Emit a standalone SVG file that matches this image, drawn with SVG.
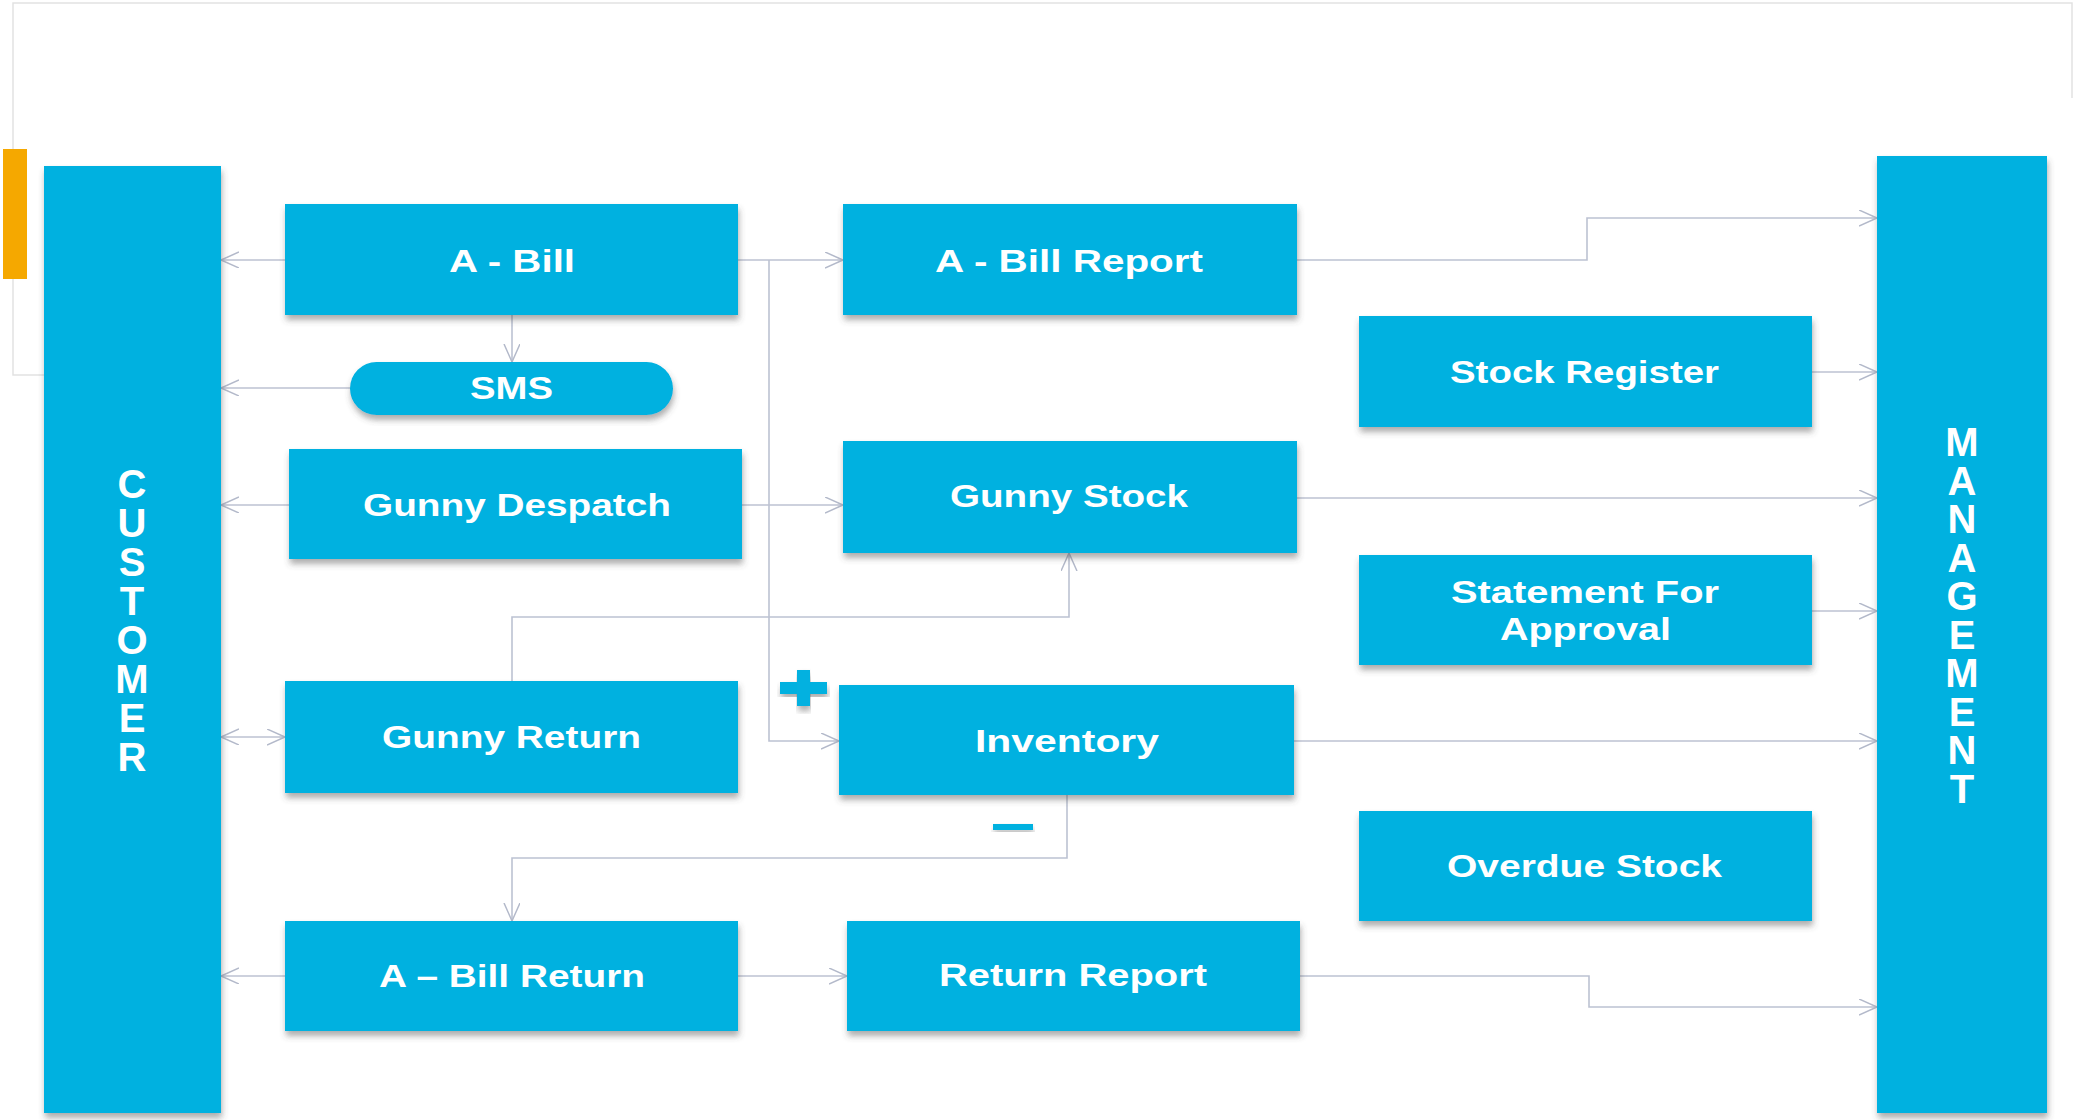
<svg xmlns="http://www.w3.org/2000/svg" width="2078" height="1120" viewBox="0 0 2078 1120">
<defs>
<style>
.box{fill:#03B1E0;filter:url(#sh)}
.t{font-family:"Liberation Sans",Arial,sans-serif;font-weight:bold;font-size:32px;fill:#ffffff}
.v{font-family:"Liberation Sans",Arial,sans-serif;font-weight:bold;font-size:40px;fill:#ffffff;writing-mode:vertical-rl;text-orientation:upright}
.c{fill:none;stroke:#bcc2d2;stroke-width:1.6}
.a{marker-end:url(#ah)}
.frame{fill:none;stroke:#e2e2e2;stroke-width:1.5}
</style>
<filter id="sh" x="-5%" y="-10%" width="110%" height="130%">
<feDropShadow dx="1" dy="5" stdDeviation="3" flood-color="#4a4a4a" flood-opacity="0.45"/>
</filter>
<marker id="ah" markerUnits="userSpaceOnUse" markerWidth="20" markerHeight="18" refX="18" refY="8" orient="auto-start-reverse" viewBox="0 0 20 18">
<path d="M0,0 L18,8 L0,16" fill="none" stroke="#b3b9ca" stroke-width="1.5"/>
</marker>
</defs>
<rect width="2078" height="1120" fill="#ffffff"/>
<path class="frame" d="M44,375 H13 V3 H2072 V98"/>
<rect x="3" y="149" width="24" height="130" fill="#F5A800"/>

<g id="connectors">
<path class="c a" d="M285,260 H221"/>
<path class="c a" d="M512,315 V362"/>
<path class="c a" d="M350,388 H221"/>
<path class="c a" d="M289,505 H221"/>
<path class="c a" d="M285,737 H221" style="marker-start:url(#ah)"/>
<path class="c a" d="M285,976 H221"/>
<path class="c a" d="M738,260 H843"/>
<path class="c a" d="M769,260 V741 H839"/>
<path class="c a" d="M742,505 H843"/>
<path class="c a" d="M512,681 V617 H1069 V553"/>
<path class="c a" d="M1067,795 V858 H512 V921"/>
<path class="c a" d="M1296,260 H1587 V218 H1877"/>
<path class="c a" d="M1812,372 H1877"/>
<path class="c a" d="M1296,498 H1877"/>
<path class="c a" d="M1812,611 H1877"/>
<path class="c a" d="M1293,741 H1877"/>
<path class="c a" d="M1300,976 H1589 V1007 H1877"/>
<path class="c a" d="M738,976 H847"/>
</g>

<g id="customer">
<rect class="box" x="44" y="166" width="177" height="947"/>
<text class="v" x="132" y="462" letter-spacing="-5.0">CUSTOMER</text>
</g>

<g id="management">
<rect class="box" x="1877" y="156" width="170" height="957"/>
<text class="v" x="1962" y="420" letter-spacing="-5.5">MANAGEMENT</text>
</g>

<g id="a-bill">
<rect class="box" x="285" y="204" width="453" height="111"/>
<text class="t" x="449" y="272" textLength="126" lengthAdjust="spacingAndGlyphs">A - Bill</text>
</g>

<g id="sms">
<rect class="box" x="350" y="362" width="323" height="53" rx="26.5" ry="26.5"/>
<text class="t" x="470" y="399" textLength="83" lengthAdjust="spacingAndGlyphs">SMS</text>
</g>

<g id="gunny-despatch">
<rect class="box" x="289" y="449" width="453" height="110"/>
<text class="t" x="363" y="516" textLength="308" lengthAdjust="spacingAndGlyphs">Gunny Despatch</text>
</g>

<g id="gunny-return">
<rect class="box" x="285" y="681" width="453" height="112"/>
<text class="t" x="382" y="748" textLength="259" lengthAdjust="spacingAndGlyphs">Gunny Return</text>
</g>

<g id="a-bill-return">
<rect class="box" x="285" y="921" width="453" height="110"/>
<text class="t" x="379" y="987" textLength="266" lengthAdjust="spacingAndGlyphs">A – Bill Return</text>
</g>

<g id="a-bill-report">
<rect class="box" x="843" y="204" width="454" height="111"/>
<text class="t" x="935" y="272" textLength="268" lengthAdjust="spacingAndGlyphs">A - Bill Report</text>
</g>

<g id="gunny-stock">
<rect class="box" x="843" y="441" width="454" height="112"/>
<text class="t" x="950" y="507" textLength="238" lengthAdjust="spacingAndGlyphs">Gunny Stock</text>
</g>

<g id="inventory">
<rect class="box" x="839" y="685" width="455" height="110"/>
<text class="t" x="975" y="752" textLength="184" lengthAdjust="spacingAndGlyphs">Inventory</text>
</g>

<g id="return-report">
<rect class="box" x="847" y="921" width="453" height="110"/>
<text class="t" x="939" y="986" textLength="268" lengthAdjust="spacingAndGlyphs">Return Report</text>
</g>

<g id="stock-register">
<rect class="box" x="1359" y="316" width="453" height="111"/>
<text class="t" x="1450" y="383" textLength="269" lengthAdjust="spacingAndGlyphs">Stock Register</text>
</g>

<g id="statement-for-approval">
<rect class="box" x="1359" y="555" width="453" height="110"/>
<text class="t" x="1451" y="603" textLength="268" lengthAdjust="spacingAndGlyphs">Statement For</text>
<text class="t" x="1500" y="640" textLength="171" lengthAdjust="spacingAndGlyphs">Approval</text>
</g>

<g id="overdue-stock">
<rect class="box" x="1359" y="811" width="453" height="110"/>
<text class="t" x="1447" y="877" textLength="275" lengthAdjust="spacingAndGlyphs">Overdue Stock</text>
</g>

<g id="plus">
<rect x="797" y="670" width="13" height="36" fill="#03B1E0" filter="url(#sh)"/>
<rect x="780" y="682" width="47" height="12" fill="#03B1E0" filter="url(#sh)"/>
<rect x="797" y="670" width="13" height="36" fill="#03B1E0"/>
</g>
<g id="minus">
<rect x="993" y="824" width="40" height="6" fill="#03B1E0" filter="url(#sh)"/>
</g>
</svg>
